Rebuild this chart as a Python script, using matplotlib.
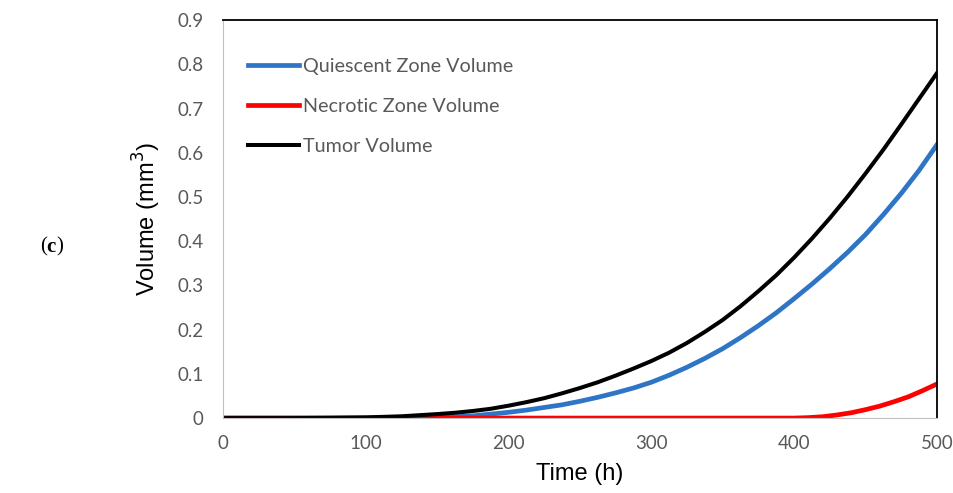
import numpy as np
import matplotlib
matplotlib.use("Agg")
import matplotlib.pyplot as plt

# values
time_h = [0, 25, 50, 75, 100, 125, 150, 162.5, 175, 187.5, 200, 212.5, 225,
          237.5, 250, 262.5, 275, 287.5, 300, 312.5, 325, 337.5, 350, 362.5,
          375, 387.5, 400, 412.5, 425, 437.5, 450, 462.5, 475, 487.5, 500]
tumor = [0, 0, 0, 0.0005, 0.0015, 0.004, 0.009, 0.012, 0.016, 0.021, 0.028,
         0.036, 0.045, 0.056, 0.068, 0.081, 0.096, 0.112, 0.129, 0.148, 0.17,
         0.195, 0.222, 0.253, 0.287, 0.323, 0.363, 0.406, 0.452, 0.501, 0.553,
         0.607, 0.664, 0.722, 0.78]
quiescent = [0, 0, 0, 0, 0, 0.0005, 0.001, 0.003, 0.005, 0.009, 0.013,
             0.018, 0.024, 0.03, 0.038, 0.047, 0.057, 0.068, 0.081, 0.097,
             0.115, 0.135, 0.157, 0.182, 0.209, 0.238, 0.27, 0.303, 0.338,
             0.375, 0.415, 0.46, 0.508, 0.56, 0.618]
necrotic_t = [0, 100, 200, 300, 400, 410, 420, 430, 440, 450, 460, 470, 480, 490, 500]
necrotic = [0, 0, 0, 0, 0, 0.001, 0.003, 0.007, 0.012, 0.019, 0.027, 0.037,
            0.048, 0.062, 0.077]

xticks = [0, 100, 200, 300, 400, 500]
yticks = [0, 0.1, 0.2, 0.3, 0.4, 0.5, 0.6, 0.7, 0.8, 0.9]

fig = plt.figure(figsize=(9.54, 4.93), dpi=100)
ax = fig.add_axes([0.2338, 0.152, 0.7482, 0.807])

ax.plot(time_h, quiescent, color='#2e75c6', lw=3.4, label='Quiescent Zone Volume')
ax.plot(necrotic_t, necrotic, color='#ff0000', lw=3.4, label='Necrotic Zone Volume')
ax.plot(time_h, tumor, color='black', lw=2.9, label='Tumor Volume')

ax.set_xlim(0, 500)
ax.set_ylim(0, 0.9)
ax.set_xticks(xticks)
ax.set_yticks(yticks)
ax.set_xticklabels([str(v) for v in xticks])
ax.set_yticklabels(['0'] + ['%.1f' % v for v in yticks[1:]])
ax.tick_params(length=0, labelsize=13.5, colors='#595959')
ax.tick_params(axis='x', pad=12)
ax.tick_params(axis='y', pad=14)
for lab in ax.get_xticklabels() + ax.get_yticklabels():
    lab.set_family('Lato')

ax.spines['top'].set_color('black')
ax.spines['right'].set_color('black')
ax.spines['top'].set_linewidth(1.3)
ax.spines['right'].set_linewidth(1.3)
ax.spines['left'].set_color('#bfbfbf')
ax.spines['bottom'].set_color('#bfbfbf')

ax.set_xlabel('Time (h)', fontsize=17, family='Liberation Sans', labelpad=8)
ax.set_ylabel('Volume (mm$^3$)', fontsize=17, family='Liberation Sans', labelpad=10)

leg = ax.legend(loc='upper left', bbox_to_anchor=(0.01, 0.95), frameon=False,
                prop={'family': 'Lato', 'size': 14.2}, labelcolor='#595959',
                handlelength=2.58, handletextpad=0.2, labelspacing=1.17)

fig.text(0.042, 0.50, '(', fontsize=15, family='Liberation Serif', va='center')
fig.text(0.049, 0.50, 'c', fontsize=15, family='Liberation Serif', weight='bold', va='center')
fig.text(0.0595, 0.50, ')', fontsize=15, family='Liberation Serif', va='center')

fig.savefig('out.png', dpi=100)
